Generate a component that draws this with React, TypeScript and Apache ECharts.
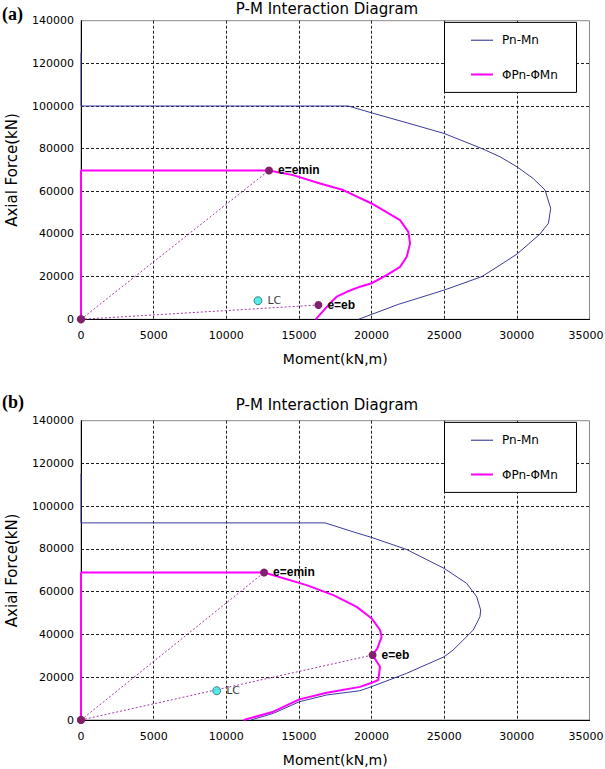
import React, { useEffect, useRef } from 'react';
import * as echarts from 'echarts';

// ---------- Data ----------
const X_MIN = 0;
const X_MAX = 35000;
const X_STEP = 5000;
const Y_MIN = 0;
const Y_MAX = 140000;
const Y_STEP = 20000;

const SERIES_PN = 'Pn-Mn';
const SERIES_PHI = 'ΦPn-ΦMn';

// (a) Pn-Mn
const A_PN_M = [0, 0, 18400, 20000, 22500, 25000, 27580, 28840, 30010, 31130, 31940, 32330, 32170, 31590, 30010, 28840, 27580, 25000, 21840, 19100];
const A_PN_P = [125000, 100000, 100000, 96800, 92000, 87100, 80100, 76200, 71500, 66000, 60600, 52000, 45000, 39950, 30600, 25400, 20000, 13700, 7000, 0];
// (a) ΦPn-ΦMn
const A_PHI_M = [0, 0, 12940, 14600, 16450, 18050, 20000, 21960, 22530, 22650, 22420, 21960, 21040, 20000, 19200, 18300, 17600, 17140, 16150];
const A_PHI_P = [0, 69800, 69800, 67600, 63700, 60600, 54300, 46500, 41000, 35600, 29300, 24600, 20700, 16900, 15300, 12900, 10600, 7500, 0];
// (a) markers
const A_EMIN = [12940, 69800];
const A_EB = [16340, 6700];
const A_LC = [12180, 8700];

// (b) Pn-Mn
const B_PN_M = [0, 0, 16800, 18740, 20000, 22400, 25000, 26550, 27240, 27510, 27460, 27000, 26650, 25610, 25000, 22400, 20000, 19200, 16910, 15030, 13240, 11700];
const B_PN_P = [115300, 92200, 92200, 88000, 85400, 79800, 70900, 63900, 57600, 51400, 48300, 42100, 39700, 32700, 29600, 21800, 15600, 13700, 11700, 8550, 3100, 0];
// (b) ΦPn-ΦMn
const B_PHI_M = [0, 0, 12600, 15530, 17370, 18980, 20010, 20580, 20690, 20400, 20070, 20580, 20460, 20010, 19200, 16910, 15030, 13240, 11200];
const B_PHI_P = [0, 69000, 69000, 63100, 58400, 52900, 47500, 42100, 38900, 33500, 30400, 24900, 18700, 17400, 15500, 12750, 9650, 3900, 0];
// (b) markers
const B_EMIN = [12600, 69000];
const B_EB = [20070, 30400];
const B_LC = [9340, 13700];

const ORIGIN = [0, 0];

const TITLE = 'P-M Interaction Diagram';
const X_NAME = 'Moment(kN,m)';
const Y_NAME = 'Axial Force(kN)';

// ---------- Styles ----------
const FONT = 'DejaVu Sans';
const BLUE = '#3a3a9e';
const LEGEND_BLUE = '#22228a';
const MAGENTA = '#ff00ff';
const PURPLE = '#82206e';
const DOT_LINE = '#a03ca0';

const zip = (m: number[], p: number[]) => m.map((v, i) => [v, p[i]]);

type Panel = {
  pnM: number[]; pnP: number[]; phiM: number[]; phiP: number[];
  emin: number[]; eb: number[]; lc: number[];
  top: number; height: number; tag: string; titleY: number; tagY: number;
};

const PANELS: Panel[] = [
  { pnM: A_PN_M, pnP: A_PN_P, phiM: A_PHI_M, phiP: A_PHI_P, emin: A_EMIN, eb: A_EB, lc: A_LC, top: 20.7, height: 298.6, tag: '(a)', titleY: 8.7, tagY: 14 },
  { pnM: B_PN_M, pnP: B_PN_P, phiM: B_PHI_M, phiP: B_PHI_P, emin: B_EMIN, eb: B_EB, lc: B_LC, top: 420.7, height: 299.3, tag: '(b)', titleY: 405, tagY: 402 },
];

const GRID_LEFT = 81;
const GRID_WIDTH = 508.5;

function buildOption() {
  const grid: any[] = [];
  const xAxis: any[] = [];
  const yAxis: any[] = [];
  const series: any[] = [];
  const legend: any[] = [];
  const graphic: any[] = [];

  PANELS.forEach((pn, i) => {
    grid.push({
      left: GRID_LEFT, top: pn.top, width: GRID_WIDTH, height: pn.height,
      outerBoundsMode: 'none', containLabel: false,
      show: true, borderColor: '#8a8a8a', borderWidth: 1, backgroundColor: 'transparent',
    });
    xAxis.push({
      type: 'value', gridIndex: i, min: X_MIN, max: X_MAX, interval: X_STEP,
      name: X_NAME, nameLocation: 'middle', nameGap: 33,
      nameTextStyle: { fontFamily: FONT, fontSize: 14, color: '#000' },
      axisLine: { show: true, onZero: false, lineStyle: { color: '#000', width: 1 } },
      axisTick: { show: false },
      axisLabel: {
        fontFamily: FONT, fontSize: 11, color: '#000', margin: 11,
        formatter: (v: number) => (v === X_MAX ? `{m|${v}}` : String(v)),
        rich: { m: { fontFamily: FONT, fontSize: 11, color: '#000', padding: [0, 7, 0, 0] } },
      },
      splitLine: { show: true, showMinLine: false, showMaxLine: false, lineStyle: { color: '#222', type: [3, 2], width: 1 } },
    });
    yAxis.push({
      type: 'value', gridIndex: i, min: Y_MIN, max: Y_MAX, interval: Y_STEP,
      name: Y_NAME, nameLocation: 'middle', nameGap: 62,
      nameTextStyle: { fontFamily: FONT, fontSize: 15, color: '#000' },
      axisLine: { show: true, onZero: false, lineStyle: { color: '#000', width: 1 } },
      axisTick: { show: false },
      axisLabel: { fontFamily: FONT, fontSize: 11, color: '#000', margin: 7, formatter: (v: number) => String(v) },
      splitLine: { show: true, showMinLine: false, showMaxLine: false, lineStyle: { color: '#222', type: [3, 2], width: 1 } },
    });

    series.push({
      name: SERIES_PN, type: 'line', xAxisIndex: i, yAxisIndex: i,
      data: zip(pn.pnM, pn.pnP), symbol: 'none', smooth: false,
      lineStyle: { color: BLUE, width: 1 }, itemStyle: { color: LEGEND_BLUE }, z: 2,
    });
    series.push({
      name: SERIES_PHI, type: 'line', xAxisIndex: i, yAxisIndex: i,
      data: zip(pn.phiM, pn.phiP), symbol: 'none', smooth: false,
      lineStyle: { color: MAGENTA, width: 2 }, itemStyle: { color: MAGENTA }, z: 3,
    });

    const markerLabel = (txt: string) => ({
      show: true, formatter: txt, position: 'right', distance: 5,
      fontFamily: 'Liberation Sans', fontWeight: 'bold', fontSize: 12, color: '#000',
    });
    [[pn.emin, 'e=emin'], [pn.eb, 'e=eb']].forEach(([pt, txt]: any) => {
      series.push({
        name: txt, type: 'line', xAxisIndex: i, yAxisIndex: i,
        data: [{ value: ORIGIN }, { value: pt, label: markerLabel(txt) }],
        symbol: 'circle', symbolSize: 8, showSymbol: true,
        itemStyle: { color: PURPLE },
        lineStyle: { color: DOT_LINE, type: [2, 2], width: 1 },
        label: { show: false }, z: 4,
      });
    });
    series.push({
      name: 'LC', type: 'scatter', xAxisIndex: i, yAxisIndex: i,
      data: [{ value: pn.lc }], symbol: 'circle', symbolSize: 8,
      itemStyle: { color: '#30e3e3', borderColor: '#1d6a6a', borderWidth: 1 },
      label: { show: true, formatter: 'LC', position: 'right', distance: 5, fontFamily: FONT, fontSize: 11, color: '#000' },
      z: 5,
    });

    const boxTop = pn.top + 1.2;
    const legendBase = {
      show: true, orient: 'vertical', left: 471, itemWidth: 22, itemGap: 0, padding: 0,
      textStyle: { fontFamily: FONT, fontSize: 12, color: '#000', padding: [0, 0, 0, 4], lineHeight: 14 },
      selectedMode: false, z: 6, icon: 'rect',
    };
    legend.push({ ...legendBase, data: [SERIES_PN], top: boxTop + 11.3, itemHeight: 1 });
    legend.push({ ...legendBase, data: [SERIES_PHI], top: boxTop + 45.6, itemHeight: 2 });
    graphic.push({
      type: 'rect', z: 5, silent: true,
      shape: { x: 444.5, y: boxTop + 0.5, width: 132, height: 70 },
      style: { fill: '#fff', stroke: '#000', lineWidth: 1 },
    });
    graphic.push({
      type: 'text', z: 6, x: 327, y: pn.titleY, silent: true,
      style: { text: TITLE, fontFamily: FONT, fontSize: 15, fill: '#000', align: 'center', verticalAlign: 'middle' },
    });
    graphic.push({
      type: 'text', z: 6, x: 2, y: pn.tagY, silent: true,
      style: { text: pn.tag, fontFamily: 'Liberation Serif', fontWeight: 'bold', fontSize: 18, fill: '#000', align: 'left', verticalAlign: 'middle' },
    });
  });

  return {
    animation: false,
    backgroundColor: '#fff',
    grid, xAxis, yAxis, series, legend, graphic,
  };
}

export default function App() {
  const ref = useRef<HTMLDivElement>(null);
  useEffect(() => {
    document.body.style.margin = '0';
    const chart = echarts.init(ref.current!, null, { renderer: 'svg' });
    chart.setOption(buildOption() as any);
    return () => chart.dispose();
  }, []);
  return <div ref={ref} style={{ width: 605, height: 769, position: 'absolute', left: 0, top: 0 }} />;
}
